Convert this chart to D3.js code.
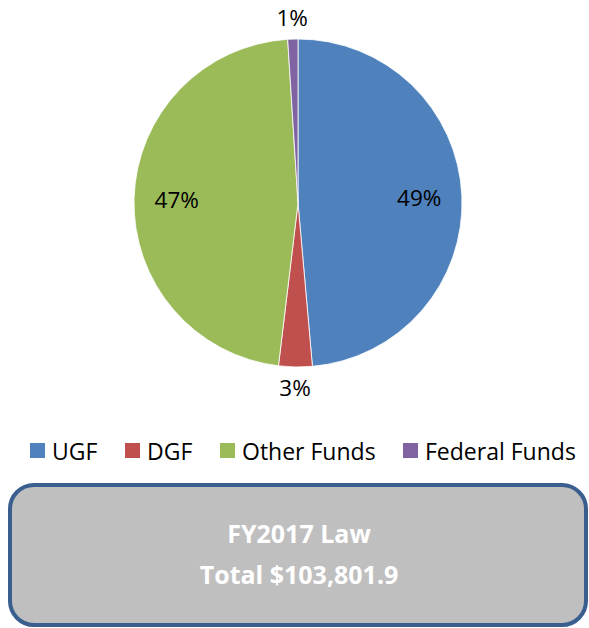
<!DOCTYPE html>
<html>
<head>
<meta charset="utf-8">
<script src="https://d3js.org/d3.v7.min.js"></script>
<style>
  body { margin: 0; background: #fff; }
  svg text { font-family: "Open Sans", sans-serif; }
</style>
</head>
<body>
<div id="chart"></div>
<script>
// Data
var categories = ["UGF", "DGF", "Other Funds", "Federal Funds"];
var shares = [48.6, 3.3, 47.1, 1.0];
var colors = ["#4f81bd", "#c0504d", "#9bbb59", "#8064a2"];
var titleLines = ["FY2017 Law", "Total $103,801.9"];

var svgWidth = 589;
var svgHeight = 628;

var svg = d3.select("#chart")
  .append("svg")
  .attr("width", svgWidth)
  .attr("height", svgHeight);

var data = categories.map(function (c, i) {
  return { name: c, value: shares[i], color: colors[i] };
});

// Pie
var cx = 298, cy = 203, radius = 164;

var pie = d3.pie()
  .sort(null)
  .value(d => d.value);

var arc = d3.arc()
  .innerRadius(0)
  .outerRadius(radius);

var pieGroup = svg.append("g")
  .attr("transform", `translate(${cx}, ${cy})`);

var arcs = pie(data);

pieGroup.selectAll("path")
  .data(arcs)
  .enter()
  .append("path")
  .attr("d", arc)
  .attr("fill", d => d.data.color)
  .attr("stroke", "#fff")
  .attr("stroke-width", 0.8);

// Labels: inside for big slices, outside for small ones
var inner = d3.arc().innerRadius(radius * 0.74).outerRadius(radius * 0.74);
var outer = d3.arc().innerRadius(radius * 1.13).outerRadius(radius * 1.13);

pieGroup.selectAll("text.pct")
  .data(arcs)
  .enter()
  .append("text")
  .attr("class", "pct")
  .attr("transform", function (d) {
    var p = (d.data.value > 10 ? inner : outer).centroid(d);
    return `translate(${p[0]}, ${p[1]})`;
  })
  .attr("text-anchor", "middle")
  .attr("dy", "0.36em")
  .attr("font-size", 22.5)
  .attr("fill", "#000")
  .text(d => Math.round(d.data.value) + "%");

// Legend
var legendX = [30, 125, 220, 403];
var legend = svg.append("g");

var items = legend.selectAll("g")
  .data(data)
  .enter()
  .append("g")
  .attr("transform", (d, i) => `translate(${legendX[i]}, 443)`);

items.append("rect")
  .attr("width", 15)
  .attr("height", 15)
  .attr("fill", d => d.color);

items.append("text")
  .attr("x", 22)
  .attr("y", 17)
  .attr("font-size", 23)
  .attr("fill", "#000")
  .text(d => d.name);

// Total box
svg.append("rect")
  .attr("x", 10)
  .attr("y", 485)
  .attr("width", 576)
  .attr("height", 140)
  .attr("rx", 24)
  .attr("ry", 24)
  .attr("fill", "#bfbfbf")
  .attr("stroke", "#3a5f8f")
  .attr("stroke-width", 4);

svg.selectAll("text.title")
  .data(titleLines)
  .enter()
  .append("text")
  .attr("class", "title")
  .attr("x", 299)
  .attr("y", (d, i) => 543 + i * 41)
  .attr("text-anchor", "middle")
  .attr("font-size", 25)
  .attr("font-weight", "bold")
  .attr("fill", "#fff")
  .text(d => d);
</script>
</body>
</html>
